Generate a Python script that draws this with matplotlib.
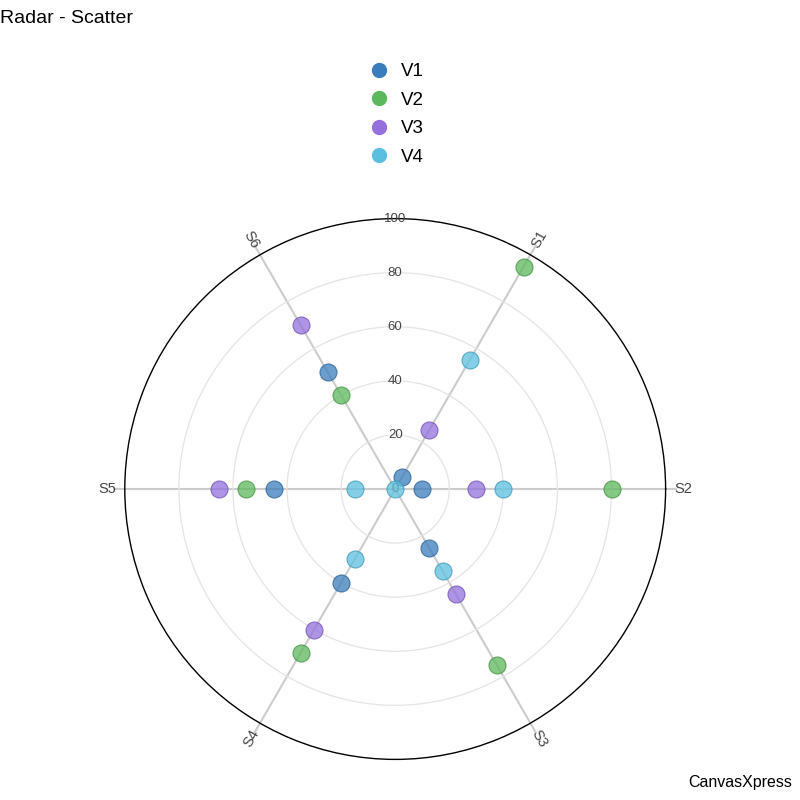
import numpy as np
import matplotlib
matplotlib.use("Agg")
import matplotlib.pyplot as plt

plt.rcParams["font.family"] = ["Liberation Sans", "DejaVu Sans"]

axes_labels = ["S1", "S2", "S3", "S4", "S5", "S6"]
series = ["V1", "V2", "V3", "V4"]
v1 = [5, 10, 25, 40, 45, 50]
v2 = [95, 80, 75, 70, 55, 40]
v3 = [25, 30, 45, 60, 65, 70]
v4 = [55, 40, 35, 30, 15, 0]
values = [v1, v2, v3, v4]
colors = ["#3a7dbd", "#5cb85c", "#9370db", "#5bc0de"]
edge_colors = ["#2a5f93", "#3f8f3f", "#6f4fb5", "#3a98b5"]
radial_ticks = [0, 20, 40, 60, 80, 100]

fig = plt.figure(figsize=(8, 8), dpi=100)
cx, cy, R = 0.494, 1 - 489 / 800, 0.338
ax = fig.add_axes([cx - R, cy - R, 2 * R, 2 * R], projection="polar")
ax.set_ylim(0, 100)
ax.set_xticks([])
ax.set_yticks([20, 40, 60, 80])
ax.set_yticklabels([])
ax.yaxis.grid(True, color="#e4e4e4", linewidth=0.9)
ax.xaxis.grid(False)
ax.spines["polar"].set_color("black")
ax.spines["polar"].set_linewidth(1.0)

angles = np.deg2rad([60 - 60 * i for i in range(len(axes_labels))])

for a, lab in zip(angles, axes_labels):
    ax.plot([a, a], [0, 104], color="#cccccc", linewidth=1.5, zorder=1, clip_on=False)
    deg = np.rad2deg(a)
    rot = deg
    if rot > 90:
        rot -= 180
    if rot < -90:
        rot += 180
    if abs(deg) < 1 or abs(abs(deg) - 180) < 1:
        rot = 0
    ax.text(a, 106.5, lab, rotation=rot, ha="center", va="center",
            fontsize=10.5, color="#444444", clip_on=False)

for t in radial_ticks:
    ax.text(np.pi / 2, t, str(t), ha="center", va="center",
            fontsize=9.5, color="#444444", zorder=3)

for name, vals, c, ec in zip(series, values, colors, edge_colors):
    ax.scatter(angles, vals, s=150, color=c, alpha=0.75, edgecolors=ec,
               linewidths=0.8, zorder=4, label=name, clip_on=False)

handles = [plt.Line2D([], [], marker="o", linestyle="", markersize=10,
                      markerfacecolor=c, markeredgecolor=c) for c in colors]
fig.legend(handles, series, loc="upper center", bbox_to_anchor=(0.49, 0.942),
           frameon=False, fontsize=13.5, handletextpad=0.2, labelspacing=0.6)

fig.text(0.0, 0.988, "Radar - Scatter", fontsize=14, ha="left", va="top")
fig.text(0.99, 0.012, "CanvasXpress", fontsize=11.5, ha="right", va="bottom")

fig.savefig("out.png", dpi=100)
